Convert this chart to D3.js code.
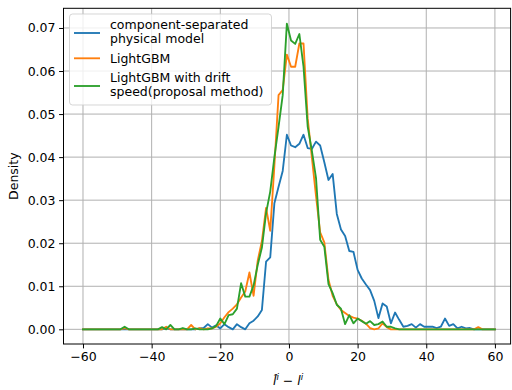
<!DOCTYPE html>
<html>
<head>
<meta charset="utf-8">
<script src="https://cdn.jsdelivr.net/npm/d3@7"></script>
<style>
  html, body { margin: 0; padding: 0; background: #fff; }
  svg { display: block; font-family: "DejaVu Sans", sans-serif; }
</style>
</head>
<body>
<svg id="chart" width="512" height="390"></svg>
<script>
// ---- data ----
const nPoints = 100;                 // sample grid: linspace(-60, 60, 100)
const xStart = -60, xEnd = 60;

const physicalModel = [
  0,0,0,0,0,0,0,0,0,0, 0,0,0,0,0,0,0,0,0,0,
  0.0003, 0,0,0,0,0,0,0,
  0.0002,0.0003,0.0012,0.0004,0.0009,0.0002,0.0012,0.0005,0,0.0012,0.0005,0,
  0.0014,0.002,0.003,0.0045,0.0157,0.0167,0.0293,0.0331,0.0368,0.0452,
  0.0427,0.0423,0.0431,0.0452,0.0421,0.0419,0.0436,0.0427,0.0388,0.0347,
  0.0361,0.0268,0.0232,0.0217,0.0182,0.018,0.0138,0.0118,0.0104,0.0091,
  0.0066,0.0026,0.006,0.0053,0.0014,0.0039,0.0022,0.0006,0.0008,0.0012,
  0.0004,0.0012,0.0006,0.0006,0.0006,0.0003,0.0006,0.0025,0.0008,0.0012,
  0.0002,0.0006,0.0002,0.0003,
  0,0,0,0,0,0
];

const lightGBM = [
  0,0,0,0,0,0,0,0,0,0,
  0.0003,
  0,0,0,0,0,0,0,0,0,
  0.0006,
  0,0,0,0,0,
  0.001, 0, 0.0003, 0,
  0.0002,0.0002,0.0006,0.0014,0.0028,0.004,0.0048,0.0058,0.0074,0.0088,
  0.0132,0.0078,0.016,0.0205,0.0282,0.0229,0.038,0.0544,0.0556,0.0638,
  0.061,0.061,0.0664,0.0664,0.049,0.04,0.031,0.0225,0.0202,0.0115,
  0.0078,0.0058,0.0045,0.0038,0.0031,0.0027,0.0025,0.002,0.0013,0.0003,
  0,0.0002,0.0014,0.0005,
  0,0,0,0,0,0,0,0,0,0,0,0,0,0,0,0,0,0,0,0,0,
  0.0005,
  0,0,0,0
];

const lightGBMDrift = [
  0,0,0,0,0,0,0,0,0,0,
  0.0006,
  0,0,0,0,0,0,0,0,
  0.0005, 0, 0.001, 0,0, 0.0003, 0,0, 0.0002, 0,0,0,
  0.0002,0.0008,0.0025,0.0012,0.0033,0.0035,0.0048,0.0107,0.0076,
  0.0076,0.0102,0.015,0.019,0.027,0.032,0.04,0.047,0.0544,0.071,
  0.0671,0.0663,0.0686,0.061,0.0471,0.0415,0.0352,0.0208,0.0192,0.0105,
  0.0084,0.0057,0.0048,0.0012,0.0033,0.0014,0.0025,0.0019,0.0013,0.0019,
  0.001,0.0012,0.0018,0.0006,0.0006,0.0002,
  0,0,0,0,0,0,0,0,0,0,0,0,0,0,0,0,0,0,0,0,0,0,0,0
];

const seriesNames = [
  ["component-separated", "physical model"],
  ["LightGBM"],
  ["LightGBM with drift", "speed(proposal method)"]
];
const seriesColors = ["#1f77b4", "#ff7f0e", "#2ca02c"];

const xTicks = [-60, -40, -20, 0, 20, 40, 60];
const yTicks = [0.00, 0.01, 0.02, 0.03, 0.04, 0.05, 0.06, 0.07];
const yLabel = "Density";

// ---- layout ----
const svg = d3.select("#chart");
const plot = { left: 63.5, right: 510.6, top: 8.3, bottom: 344 };
const fs = 12.5;

const x = d3.scaleLinear().domain([-65.68, 64.57]).range([plot.left, plot.right]);
const y = d3.scaleLinear().domain([-0.00341, 0.07457]).range([plot.bottom, plot.top]);

const xGrid = d3.range(nPoints).map(k => xStart + k * (xEnd - xStart) / (nPoints - 1));
const allSeries = [physicalModel, lightGBM, lightGBMDrift];

// grid
const grid = svg.append("g");
xTicks.forEach(t => {
  grid.append("line").attr("x1", x(t)).attr("x2", x(t))
    .attr("y1", plot.top).attr("y2", plot.bottom)
    .attr("stroke", "#b0b0b0").attr("stroke-width", 1);
});
yTicks.forEach(t => {
  grid.append("line").attr("x1", plot.left).attr("x2", plot.right)
    .attr("y1", y(t)).attr("y2", y(t))
    .attr("stroke", "#b0b0b0").attr("stroke-width", 1);
});

// lines
const line = d3.line().x((d, i) => x(xGrid[i])).y(d => y(d));
allSeries.forEach((s, i) => {
  svg.append("path").datum(s)
    .attr("d", line)
    .attr("fill", "none")
    .attr("stroke", seriesColors[i])
    .attr("stroke-width", 1.85)
    .attr("stroke-linejoin", "round")
    .attr("stroke-linecap", "square");
});

// axes
const xAxis = d3.axisBottom(x).tickValues(xTicks).tickSize(4.4).tickPadding(3.6)
  .tickFormat(d => (d < 0 ? "\u2212" + Math.abs(d) : String(d)));
const yAxis = d3.axisLeft(y).tickValues(yTicks).tickSize(4.4).tickPadding(3.6)
  .tickFormat(d3.format(".2f"));

const gx = svg.append("g").attr("transform", `translate(0,${plot.bottom})`).call(xAxis);
const gy = svg.append("g").attr("transform", `translate(${plot.left},0)`).call(yAxis);
[gx, gy].forEach(g => {
  g.select(".domain").remove();
  g.selectAll("line").attr("stroke", "#000").attr("stroke-width", 1);
  g.selectAll("text").attr("font-size", fs).attr("fill", "#000")
    .attr("font-family", "DejaVu Sans");
});

// frame
svg.append("rect")
  .attr("x", plot.left).attr("y", plot.top)
  .attr("width", plot.right - plot.left).attr("height", plot.bottom - plot.top)
  .attr("fill", "none").attr("stroke", "#000").attr("stroke-width", 1);

// y label
svg.append("text")
  .attr("transform", `translate(18,${(plot.top + plot.bottom) / 2}) rotate(-90)`)
  .attr("text-anchor", "middle").attr("font-size", fs).attr("fill", "#000")
  .text(yLabel);

// x label: \hat{l}^i - l^i
const xl = svg.append("text")
  .attr("x", (plot.left + plot.right) / 2 + 1).attr("y", 385)
  .attr("text-anchor", "middle").attr("font-size", fs).attr("fill", "#000");
xl.append("tspan").attr("font-style", "italic").text("l\u0302");
xl.append("tspan").attr("font-style", "italic").attr("font-size", fs * 0.7).attr("dy", -5).text("i");
xl.append("tspan").attr("dy", 5).text(" \u2212 ");
xl.append("tspan").attr("font-style", "italic").text("l");
xl.append("tspan").attr("font-style", "italic").attr("font-size", fs * 0.7).attr("dy", -5).text("i");

// legend
const lg = svg.append("g");
lg.append("rect")
  .attr("x", 69.5).attr("y", 14).attr("width", 202).attr("height", 91)
  .attr("rx", 3).attr("ry", 3)
  .attr("fill", "#fff").attr("fill-opacity", 0.8)
  .attr("stroke", "#cccccc").attr("stroke-opacity", 0.8).attr("stroke-width", 1);

const legendRows = [
  { handleY: 33, baselines: [28.8, 42.6] },
  { handleY: 58.3, baselines: [62.8] },
  { handleY: 86, baselines: [81.8, 95.6] }
];
legendRows.forEach((r, i) => {
  lg.append("line").attr("x1", 74).attr("x2", 100)
    .attr("y1", r.handleY).attr("y2", r.handleY)
    .attr("stroke", seriesColors[i]).attr("stroke-width", 1.85);
  seriesNames[i].forEach((t, j) => {
    lg.append("text").attr("x", 110).attr("y", r.baselines[j])
      .attr("font-size", fs).attr("fill", "#000").text(t);
  });
});
</script>
</body>
</html>
